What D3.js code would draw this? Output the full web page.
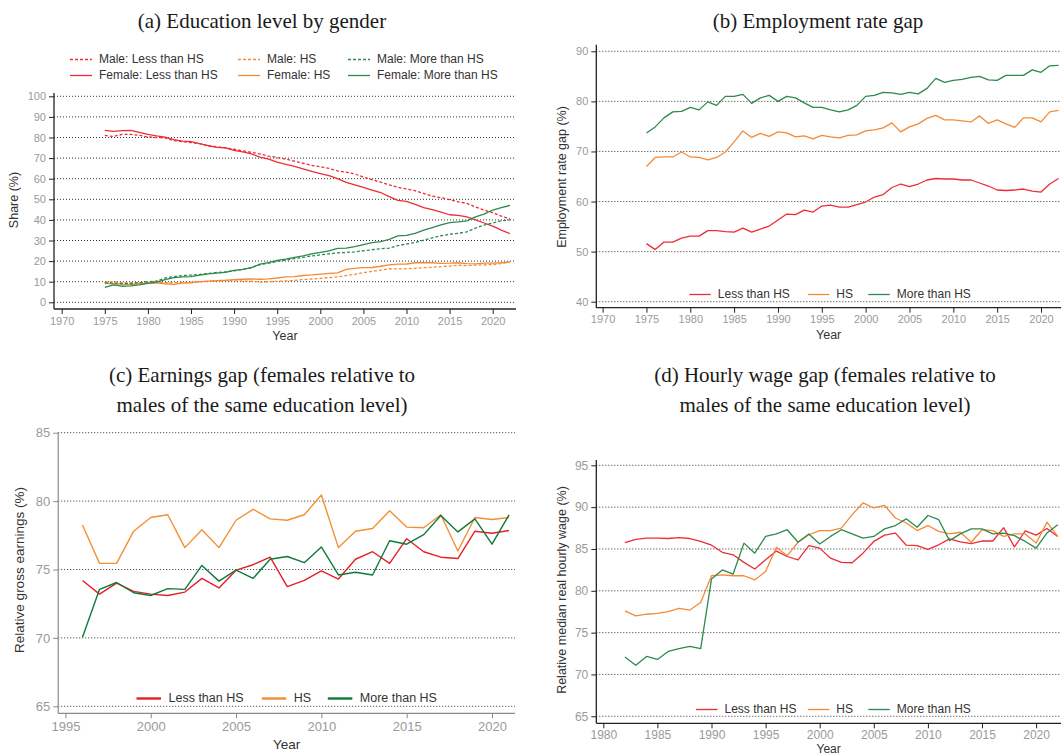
<!DOCTYPE html>
<html>
<head>
<meta charset="utf-8">
<script src="https://cdn.jsdelivr.net/npm/d3@7"></script>
<style>
  html, body { margin: 0; padding: 0; background: #fff; }
  svg { display: block; }
  .title { font-family: "Liberation Serif", "Times New Roman", serif; fill: #1a1a1a; }
  .sans { font-family: "Liberation Sans", Arial, sans-serif; }
</style>
</head>
<body>
<svg id="chart" width="1061" height="754"></svg>
<script>
// ---------- (a) Education level by gender ----------
const yearsA = [1975,1976,1977,1978,1979,1980,1981,1982,1983,1984,1985,1986,1987,1988,1989,1990,1991,1992,1993,1994,1995,1996,1997,1998,1999,2000,2001,2002,2003,2004,2005,2006,2007,2008,2009,2010,2011,2012,2013,2014,2015,2016,2017,2018,2019,2020,2021,2022];
const maleLessHS = [81,80.5,81.5,81.5,81,80.3,80,79.8,78.5,78,77.5,77,76,75.5,75,74.3,73.5,72.8,72,71,70.3,69.5,68.5,67.5,66.5,65.8,65,63.8,63.2,62.3,60.8,59.5,58.3,57,55.8,55,54.2,52.8,51.5,50.8,49.8,48.8,48,46.3,44.8,43.5,41.8,40.5];
const femaleLessHS = [83.5,83,83.3,83.5,82.5,81.5,80.8,80.2,79,78.2,78,77,76,75.2,75,73.8,73,72,70.5,69.5,68,67,66,64.8,63.5,62.5,61.5,60,58.2,57,55.8,54.5,53.3,51.3,49.5,49,47.5,46,45,43.8,42.5,42.2,41.5,40,38.5,37,35,33.3];
const maleHS = [9.8,10,9.5,9.5,9.6,9.7,9.8,9.5,9.5,9.6,9.7,9.9,10.2,10.4,10.5,10.4,10.3,10.2,9.8,10,10.2,10.4,10.6,11,11.3,11.6,12,12.3,13,13.6,14.4,15,15.6,16.3,16.2,16.3,16.5,16.8,17,17.3,17.6,18,17.8,18,18.2,18.3,18.8,19.5];
const femaleHS = [9.2,9,8.8,8.7,9,9.3,9.5,9,8.7,9.3,9.5,10,10.3,10.5,10.7,11,11.2,11.3,11.2,11.4,11.8,12.3,12.5,13,13.3,13.7,14,14.3,16,16.5,16.8,16.9,17.5,18.2,18.5,18.6,19.2,19.3,19.2,18.9,19,19.2,18.8,18.7,19,19,19.2,19.5];
const maleMoreHS = [9.5,9.3,9,9,9.5,10,10.3,11.8,12.5,13,13.2,13.5,14,14.5,14.8,15.3,16,16.8,18.3,19,19.8,20.5,21.2,21.8,22.5,23,23.5,24,24.2,24.5,25,25.5,26,26.3,27.5,28.3,29,30.2,31.3,32.3,33,33.5,34.2,36,37.5,38.5,39.5,40];
const femaleMoreHS = [7.3,8.5,7.8,8,8.5,9.2,9.8,11,12,12.3,12.5,13.2,13.8,14.2,14.5,15.5,16,16.8,18.5,19.3,20.3,21,21.8,22.5,23.5,24.2,25,26.2,26.3,27,28,29,29.5,30.5,32.2,32.5,33.5,35,36.3,37.6,38.7,39,39.5,41.5,42.8,44.8,46,47];
const legendA = ["Male: Less than HS","Male: HS","Male: More than HS","Female: Less than HS","Female: HS","Female: More than HS"];
const ticksA_x = [1970,1975,1980,1985,1990,1995,2000,2005,2010,2015,2020];
const ticksA_y = [0,10,20,30,40,50,60,70,80,90,100];

// ---------- (b) Employment rate gap ----------
const yearsB = yearsA;
const empLessHS = [51.6,50.4,51.9,51.9,52.7,53.1,53.1,54.2,54.2,54,53.9,54.7,53.9,54.5,55.1,56.3,57.5,57.4,58.3,57.9,59.1,59.3,58.9,58.9,59.4,59.9,60.9,61.4,62.8,63.5,63,63.5,64.3,64.6,64.5,64.5,64.3,64.3,63.7,63.1,62.3,62.2,62.3,62.5,62.1,61.9,63.5,64.6];
const empHS = [67,68.8,68.9,68.9,69.9,68.9,68.8,68.3,68.8,69.9,71.9,74.1,72.8,73.6,73,73.9,73.7,72.9,73.1,72.5,73.2,72.9,72.7,73.2,73.3,74.1,74.3,74.7,75.7,73.9,74.9,75.5,76.6,77.2,76.3,76.3,76.1,75.9,77.1,75.6,76.3,75.5,74.8,76.7,76.7,75.9,77.9,78.2];
const empMoreHS = [73.7,74.9,76.7,77.9,78,78.8,78.3,79.9,79.2,81,81,81.4,79.6,80.7,81.2,80,81,80.7,79.7,78.8,78.8,78.3,77.9,78.3,79.2,81,81.2,81.8,81.7,81.4,81.8,81.5,82.6,84.6,83.8,84.2,84.4,84.8,85,84.3,84.2,85.2,85.2,85.2,86.3,85.8,87.1,87.2];
const ticksB_x = ticksA_x;
const ticksB_y = [40,50,60,70,80,90];

// ---------- (c) Earnings gap ----------
const yearsC = [1996,1997,1998,1999,2000,2001,2002,2003,2004,2005,2006,2007,2008,2009,2010,2011,2012,2013,2014,2015,2016,2017,2018,2019,2020,2021];
const earnLessHS = [74.2,73.2,74,73.4,73.2,73.1,73.35,74.35,73.65,74.95,75.35,75.9,73.75,74.2,74.9,74.3,75.75,76.3,75.45,77.25,76.3,75.9,75.8,77.8,77.65,77.85];
const earnHS = [78.25,75.45,75.45,77.8,78.8,79,76.6,77.9,76.6,78.6,79.4,78.7,78.6,79,80.45,76.6,77.8,78,79.3,78.1,78.05,79,76.35,78.8,78.65,78.8];
const earnMoreHS = [70.05,73.55,74.05,73.3,73.1,73.6,73.55,75.3,74.15,74.95,74.35,75.75,75.95,75.5,76.65,74.6,74.8,74.6,77.1,76.85,77.55,78.95,77.75,78.7,76.85,79];
const ticksC_x = [1995,2000,2005,2010,2015,2020];
const ticksC_y = [65,70,75,80,85];

// ---------- (d) Hourly wage gap ----------
const yearsD = [1982,1983,1984,1985,1986,1987,1988,1989,1990,1991,1992,1993,1994,1995,1996,1997,1998,1999,2000,2001,2002,2003,2004,2005,2006,2007,2008,2009,2010,2011,2012,2013,2014,2015,2016,2017,2018,2019,2020,2021,2022];
const wageLessHS = [85.75,86.15,86.3,86.3,86.25,86.35,86.25,85.9,85.45,84.6,84.3,83.4,82.6,83.7,84.75,84.1,83.7,85.4,85.1,83.9,83.4,83.35,84.5,85.9,86.65,86.9,85.45,85.4,84.95,85.5,86.2,85.85,85.65,85.95,85.95,87.55,85.25,87.15,86.65,87.45,86.5];
const wageHS = [77.6,77,77.2,77.3,77.5,77.9,77.7,78.6,81.8,81.9,81.8,81.8,81.3,82.3,85.2,84.2,85.8,86.7,87.2,87.2,87.5,89.1,90.5,89.9,90.2,88.7,88.1,87.2,87.8,87.1,86.8,87,85.8,87.3,87.2,86.5,86.8,86.8,85.7,88.2,86.5];
const wageMoreHS = [72.1,71.1,72.15,71.8,72.75,73.1,73.35,73.1,81.4,82.5,82,85.7,84.5,86.5,86.8,87.3,85.8,86.8,85.6,86.5,87.3,86.8,86.3,86.5,87.4,87.8,88.6,87.6,89,88.5,86,86.8,87.4,87.4,86.8,86.9,86.6,85.9,85.1,86.9,87.9];
const ticksD_x = [1980,1985,1990,1995,2000,2005,2010,2015,2020];
const ticksD_y = [65,70,75,80,85,90,95];

const eduLabels = ["Less than HS","HS","More than HS"];

// Colours
const RED = "#ec2d36", ORANGE = "#f58a35", GREEN = "#2d8a4e";
const RED_C = "#e4202a", ORANGE_C = "#f39033", GREEN_C = "#0f7a3a";

const svg = d3.select("#chart");

// Generic panel: axes, dotted gridlines, tick labels
function panel(cfg) {
  const g = svg.append("g");
  const x = d3.scaleLinear().domain(cfg.xDom).range(cfg.xRange);
  const y = d3.scaleLinear().domain(cfg.yDom).range(cfg.yRange);
  const pad = cfg.tickPad === undefined ? 3 : cfg.tickPad;

  // dotted horizontal gridlines
  g.selectAll("line.grid").data(cfg.yTicks).join("line")
    .attr("x1", cfg.axisX).attr("x2", cfg.gridEnd)
    .attr("y1", d => y(d)).attr("y2", d => y(d))
    .attr("stroke", "#333").attr("stroke-width", 1)
    .attr("stroke-dasharray", "1,2");

  // y axis
  const yAxis = d3.axisLeft(y).tickValues(cfg.yTicks).tickSize(5).tickPadding(3);
  const ya = g.append("g").attr("transform", `translate(${cfg.axisX},0)`).call(yAxis);
  ya.select(".domain").remove();
  ya.append("line").attr("x1", 0).attr("x2", 0)
    .attr("y1", cfg.axisTop).attr("y2", cfg.axisBottom)
    .attr("stroke", cfg.axisColor).attr("stroke-width", cfg.axisWidth);
  ya.selectAll(".tick line").attr("stroke", cfg.axisColor);
  ya.selectAll(".tick text").attr("fill", "#9a9a9a")
    .attr("font-family", "Liberation Sans, Arial, sans-serif")
    .attr("font-size", cfg.tickFont);

  // x axis
  const xAxis = d3.axisBottom(x).tickValues(cfg.xTicks).tickFormat(d3.format("d")).tickSize(5).tickPadding(pad);
  const xa = g.append("g").attr("transform", `translate(0,${cfg.axisBottom})`).call(xAxis);
  xa.select(".domain").remove();
  xa.append("line").attr("x1", cfg.axisX).attr("x2", cfg.axisRight)
    .attr("y1", 0).attr("y2", 0)
    .attr("stroke", cfg.axisColor).attr("stroke-width", cfg.axisWidth);
  xa.selectAll(".tick line").attr("stroke", cfg.axisColor);
  xa.selectAll(".tick text").attr("fill", "#9a9a9a")
    .attr("font-family", "Liberation Sans, Arial, sans-serif")
    .attr("font-size", cfg.tickFont);

  // axis titles
  g.append("text").attr("class", "sans")
    .attr("x", (cfg.axisX + cfg.axisRight) / 2).attr("y", cfg.xTitleY)
    .attr("text-anchor", "middle").attr("font-size", cfg.xTitleFont || cfg.titleFont).attr("fill", "#333")
    .text("Year");
  g.append("text").attr("class", "sans")
    .attr("transform", `translate(${cfg.yTitleX},${cfg.yTitleCY}) rotate(-90)`)
    .attr("text-anchor", "middle").attr("dominant-baseline", "middle")
    .attr("font-size", cfg.titleFont).attr("fill", "#333")
    .text(cfg.yTitle);

  // panel heading
  cfg.heading.forEach((t, i) => {
    svg.append("text").attr("class", "title")
      .attr("x", cfg.headX).attr("y", cfg.headY + i * 30)
      .attr("text-anchor", "middle").attr("font-size", 21)
      .text(t);
  });

  // series
  const line = d3.line().x(d => x(d[0])).y(d => y(d[1]));
  cfg.series.forEach(s => {
    g.append("path")
      .datum(s.years.map((yr, i) => [yr, s.values[i]]))
      .attr("d", line).attr("fill", "none")
      .attr("stroke", s.color).attr("stroke-width", s.width || 1.3)
      .attr("stroke-dasharray", s.dash || null)
      .attr("stroke-linejoin", "round");
  });

  // legend
  if (cfg.legend) {
    cfg.legend.items.forEach(it => {
      g.append("line")
        .attr("x1", it.x).attr("x2", it.x + cfg.legend.len)
        .attr("y1", it.y).attr("y2", it.y)
        .attr("stroke", it.color).attr("stroke-width", cfg.legend.width)
        .attr("stroke-dasharray", it.dash || null);
      g.append("text").attr("class", "sans")
        .attr("x", it.x + cfg.legend.len + cfg.legend.gap).attr("y", it.y)
        .attr("dominant-baseline", "middle")
        .attr("font-size", cfg.legend.font).attr("fill", "#333")
        .text(it.label);
    });
  }
  return { x, y };
}

// (a)
panel({
  xDom: [1970, 2020], xRange: [61.7, 492.7],
  yDom: [0, 100], yRange: [302.3, 96.3],
  axisX: 54, axisRight: 516, gridEnd: 516, axisTop: 93, axisBottom: 309,
  axisColor: "#222", axisWidth: 1.3, tickFont: 11,
  xTicks: ticksA_x, yTicks: ticksA_y,
  xTitleY: 340, yTitleX: 15, yTitleCY: 200, yTitle: "Share (%)", titleFont: 12.5,
  heading: ["(a) Education level by gender"], headX: 262, headY: 28,
  series: [
    { years: yearsA, values: maleLessHS, color: RED, dash: "3,2" },
    { years: yearsA, values: femaleLessHS, color: RED },
    { years: yearsA, values: maleHS, color: ORANGE, dash: "3,2" },
    { years: yearsA, values: femaleHS, color: ORANGE },
    { years: yearsA, values: maleMoreHS, color: GREEN, dash: "3,2" },
    { years: yearsA, values: femaleMoreHS, color: GREEN }
  ],
  legend: {
    len: 22, gap: 7, width: 1.3, font: 12,
    items: [
      { x: 70, y: 59.5, color: RED, dash: "3,2", label: legendA[0] },
      { x: 238, y: 59.5, color: ORANGE, dash: "3,2", label: legendA[1] },
      { x: 348, y: 59.5, color: GREEN, dash: "3,2", label: legendA[2] },
      { x: 70, y: 75.5, color: RED, label: legendA[3] },
      { x: 238, y: 75.5, color: ORANGE, label: legendA[4] },
      { x: 348, y: 75.5, color: GREEN, label: legendA[5] }
    ]
  }
});

// (b)
panel({
  xDom: [1970, 2020], xRange: [602.6, 1041],
  yDom: [40, 90], yRange: [301.7, 51.3],
  axisX: 596.3, axisRight: 1061, gridEnd: 1061, axisTop: 44.7, axisBottom: 307.7,
  axisColor: "#222", axisWidth: 1.3, tickFont: 11,
  xTicks: ticksB_x, yTicks: ticksB_y,
  xTitleY: 339, yTitleX: 563, yTitleCY: 177, yTitle: "Employment rate gap (%)", titleFont: 12.5,
  heading: ["(b) Employment rate gap"], headX: 818, headY: 28,
  series: [
    { years: yearsB, values: empLessHS, color: RED },
    { years: yearsB, values: empHS, color: ORANGE },
    { years: yearsB, values: empMoreHS, color: GREEN }
  ],
  legend: {
    len: 21.5, gap: 7, width: 1.3, font: 12,
    items: [
      { x: 689.3, y: 294.5, color: RED, label: eduLabels[0] },
      { x: 807.8, y: 294.5, color: ORANGE, label: eduLabels[1] },
      { x: 868.3, y: 294.5, color: GREEN, label: eduLabels[2] }
    ]
  }
});

// (c)
panel({
  xDom: [1995, 2020], xRange: [65.4, 492],
  yDom: [65, 85], yRange: [706.3, 432.7],
  axisX: 58.2, axisRight: 515, gridEnd: 515, axisTop: 432.7, axisBottom: 713.3,
  axisColor: "#8a8a8a", axisWidth: 1.2, tickFont: 13,
  xTicks: ticksC_x, yTicks: ticksC_y,
  xTitleY: 749, yTitleX: 20, yTitleCY: 570, yTitle: "Relative gross earnings (%)", titleFont: 13.5,
  heading: ["(c) Earnings gap (females relative to", "males of the same education level)"], headX: 262, headY: 382,
  series: [
    { years: yearsC, values: earnLessHS, color: RED_C, width: 1.4 },
    { years: yearsC, values: earnHS, color: ORANGE_C, width: 1.4 },
    { years: yearsC, values: earnMoreHS, color: GREEN_C, width: 1.4 }
  ],
  legend: {
    len: 24.5, gap: 7.5, width: 2.4, font: 12.5,
    items: [
      { x: 136.5, y: 698.5, color: RED_C, label: eduLabels[0] },
      { x: 261.8, y: 698.5, color: ORANGE_C, label: eduLabels[1] },
      { x: 327.8, y: 698.5, color: GREEN_C, label: eduLabels[2] }
    ]
  }
});

// (d)
panel({
  xDom: [1980, 2020], xRange: [603.3, 1036.1],
  yDom: [65, 95], yRange: [716.3, 465.3],
  axisX: 596.3, axisRight: 1061, gridEnd: 1061, axisTop: 460, axisBottom: 723.3,
  axisColor: "#222", axisWidth: 1.3, tickFont: 12, tickPad: 2,
  xTicks: ticksD_x, yTicks: ticksD_y,
  xTitleY: 752.5, xTitleFont: 12, yTitleX: 563, yTitleCY: 590, yTitle: "Relative median real hourly wage (%)", titleFont: 12.5,
  heading: ["(d) Hourly wage gap (females relative to", "males of the same education level)"], headX: 825, headY: 382,
  series: [
    { years: yearsD, values: wageLessHS, color: RED },
    { years: yearsD, values: wageHS, color: ORANGE },
    { years: yearsD, values: wageMoreHS, color: GREEN }
  ],
  legend: {
    len: 21.5, gap: 7, width: 1.3, font: 12,
    items: [
      { x: 696, y: 709.5, color: RED, label: eduLabels[0] },
      { x: 807.8, y: 709.5, color: ORANGE, label: eduLabels[1] },
      { x: 868.3, y: 709.5, color: GREEN, label: eduLabels[2] }
    ]
  }
});
</script>
</body>
</html>
